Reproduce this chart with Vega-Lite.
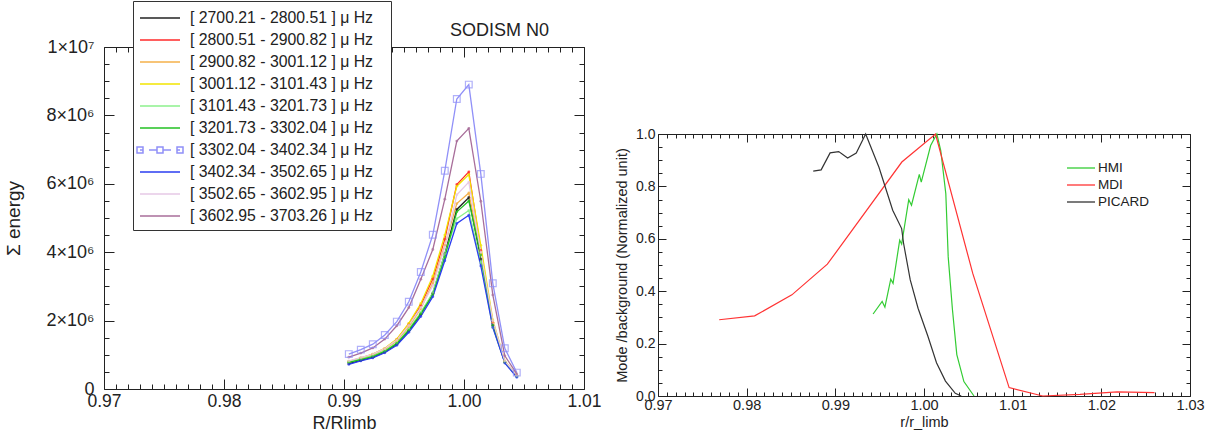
{
  "$schema": "https://vega.github.io/schema/vega-lite/v6.json",
  "padding": {"left": 4, "top": 0, "right": 2, "bottom": 0},
  "spacing": 12,
  "resolve": {"scale": {"color": "independent"}, "legend": {"color": "independent"}},
  "config": {
    "font": "Liberation Sans",
    "view": {"stroke": null},
    "axis": {"grid": false, "domainColor": "#222", "tickColor": "#222", "labelColor": "#222", "titleColor": "#222", "titleFontWeight": "normal", "labelFont": "Liberation Sans", "titleFont": "Liberation Sans", "labelFlush": false, "labelOverlap": false},
    "legend": {"labelFont": "Liberation Sans", "labelColor": "#222"}
  },
  "datasets": {
    "energy": [
      {"band":"2700.21 - 2800.51","x":0.9904,"y":740000},{"band":"2700.21 - 2800.51","x":0.9914,"y":840000},{"band":"2700.21 - 2800.51","x":0.9924,"y":930000},{"band":"2700.21 - 2800.51","x":0.9934,"y":1080000},{"band":"2700.21 - 2800.51","x":0.9944,"y":1310000},{"band":"2700.21 - 2800.51","x":0.9954,"y":1700000},{"band":"2700.21 - 2800.51","x":0.9964,"y":2180000},{"band":"2700.21 - 2800.51","x":0.9974,"y":2800000},{"band":"2700.21 - 2800.51","x":0.9984,"y":3950000},{"band":"2700.21 - 2800.51","x":0.9994,"y":5250000},{"band":"2700.21 - 2800.51","x":1.0004,"y":5600000},{"band":"2700.21 - 2800.51","x":1.0014,"y":3800000},{"band":"2700.21 - 2800.51","x":1.0024,"y":1850000},{"band":"2700.21 - 2800.51","x":1.0034,"y":780000},{"band":"2700.21 - 2800.51","x":1.0044,"y":380000},
      {"band":"2800.51 - 2900.82","x":0.9904,"y":800000},{"band":"2800.51 - 2900.82","x":0.9914,"y":900000},{"band":"2800.51 - 2900.82","x":0.9924,"y":1010000},{"band":"2800.51 - 2900.82","x":0.9934,"y":1180000},{"band":"2800.51 - 2900.82","x":0.9944,"y":1450000},{"band":"2800.51 - 2900.82","x":0.9954,"y":1900000},{"band":"2800.51 - 2900.82","x":0.9964,"y":2450000},{"band":"2800.51 - 2900.82","x":0.9974,"y":3220000},{"band":"2800.51 - 2900.82","x":0.9984,"y":4380000},{"band":"2800.51 - 2900.82","x":0.9994,"y":5980000},{"band":"2800.51 - 2900.82","x":1.0004,"y":6350000},{"band":"2800.51 - 2900.82","x":1.0014,"y":4050000},{"band":"2800.51 - 2900.82","x":1.0024,"y":1950000},{"band":"2800.51 - 2900.82","x":1.0034,"y":800000},{"band":"2800.51 - 2900.82","x":1.0044,"y":390000},
      {"band":"2900.82 - 3001.12","x":0.9904,"y":800000},{"band":"2900.82 - 3001.12","x":0.9914,"y":900000},{"band":"2900.82 - 3001.12","x":0.9924,"y":1000000},{"band":"2900.82 - 3001.12","x":0.9934,"y":1160000},{"band":"2900.82 - 3001.12","x":0.9944,"y":1400000},{"band":"2900.82 - 3001.12","x":0.9954,"y":1820000},{"band":"2900.82 - 3001.12","x":0.9964,"y":2350000},{"band":"2900.82 - 3001.12","x":0.9974,"y":3100000},{"band":"2900.82 - 3001.12","x":0.9984,"y":4200000},{"band":"2900.82 - 3001.12","x":0.9994,"y":5420000},{"band":"2900.82 - 3001.12","x":1.0004,"y":5730000},{"band":"2900.82 - 3001.12","x":1.0014,"y":3950000},{"band":"2900.82 - 3001.12","x":1.0024,"y":1950000},{"band":"2900.82 - 3001.12","x":1.0034,"y":800000},{"band":"2900.82 - 3001.12","x":1.0044,"y":390000},
      {"band":"3001.12 - 3101.43","x":0.9904,"y":810000},{"band":"3001.12 - 3101.43","x":0.9914,"y":910000},{"band":"3001.12 - 3101.43","x":0.9924,"y":1020000},{"band":"3001.12 - 3101.43","x":0.9934,"y":1190000},{"band":"3001.12 - 3101.43","x":0.9944,"y":1460000},{"band":"3001.12 - 3101.43","x":0.9954,"y":1920000},{"band":"3001.12 - 3101.43","x":0.9964,"y":2500000},{"band":"3001.12 - 3101.43","x":0.9974,"y":3300000},{"band":"3001.12 - 3101.43","x":0.9984,"y":4500000},{"band":"3001.12 - 3101.43","x":0.9994,"y":5930000},{"band":"3001.12 - 3101.43","x":1.0004,"y":6270000},{"band":"3001.12 - 3101.43","x":1.0014,"y":4200000},{"band":"3001.12 - 3101.43","x":1.0024,"y":2020000},{"band":"3001.12 - 3101.43","x":1.0034,"y":820000},{"band":"3001.12 - 3101.43","x":1.0044,"y":400000},
      {"band":"3101.43 - 3201.73","x":0.9904,"y":790000},{"band":"3101.43 - 3201.73","x":0.9914,"y":880000},{"band":"3101.43 - 3201.73","x":0.9924,"y":970000},{"band":"3101.43 - 3201.73","x":0.9934,"y":1120000},{"band":"3101.43 - 3201.73","x":0.9944,"y":1350000},{"band":"3101.43 - 3201.73","x":0.9954,"y":1750000},{"band":"3101.43 - 3201.73","x":0.9964,"y":2240000},{"band":"3101.43 - 3201.73","x":0.9974,"y":2820000},{"band":"3101.43 - 3201.73","x":0.9984,"y":3950000},{"band":"3101.43 - 3201.73","x":0.9994,"y":4980000},{"band":"3101.43 - 3201.73","x":1.0004,"y":5220000},{"band":"3101.43 - 3201.73","x":1.0014,"y":3700000},{"band":"3101.43 - 3201.73","x":1.0024,"y":1800000},{"band":"3101.43 - 3201.73","x":1.0034,"y":780000},{"band":"3101.43 - 3201.73","x":1.0044,"y":370000},
      {"band":"3201.73 - 3302.04","x":0.9904,"y":780000},{"band":"3201.73 - 3302.04","x":0.9914,"y":860000},{"band":"3201.73 - 3302.04","x":0.9924,"y":950000},{"band":"3201.73 - 3302.04","x":0.9934,"y":1100000},{"band":"3201.73 - 3302.04","x":0.9944,"y":1330000},{"band":"3201.73 - 3302.04","x":0.9954,"y":1720000},{"band":"3201.73 - 3302.04","x":0.9964,"y":2200000},{"band":"3201.73 - 3302.04","x":0.9974,"y":2750000},{"band":"3201.73 - 3302.04","x":0.9984,"y":3850000},{"band":"3201.73 - 3302.04","x":0.9994,"y":5180000},{"band":"3201.73 - 3302.04","x":1.0004,"y":5500000},{"band":"3201.73 - 3302.04","x":1.0014,"y":3920000},{"band":"3201.73 - 3302.04","x":1.0024,"y":1860000},{"band":"3201.73 - 3302.04","x":1.0034,"y":790000},{"band":"3201.73 - 3302.04","x":1.0044,"y":370000},
      {"band":"3302.04 - 3402.34","x":0.9904,"y":1020000},{"band":"3302.04 - 3402.34","x":0.9914,"y":1150000},{"band":"3302.04 - 3402.34","x":0.9924,"y":1310000},{"band":"3302.04 - 3402.34","x":0.9934,"y":1580000},{"band":"3302.04 - 3402.34","x":0.9944,"y":1970000},{"band":"3302.04 - 3402.34","x":0.9954,"y":2550000},{"band":"3302.04 - 3402.34","x":0.9964,"y":3420000},{"band":"3302.04 - 3402.34","x":0.9974,"y":4510000},{"band":"3302.04 - 3402.34","x":0.9984,"y":6380000},{"band":"3302.04 - 3402.34","x":0.9994,"y":8480000},{"band":"3302.04 - 3402.34","x":1.0004,"y":8900000},{"band":"3302.04 - 3402.34","x":1.0014,"y":6290000},{"band":"3302.04 - 3402.34","x":1.0024,"y":3090000},{"band":"3302.04 - 3402.34","x":1.0034,"y":1190000},{"band":"3302.04 - 3402.34","x":1.0044,"y":480000},
      {"band":"3402.34 - 3502.65","x":0.9904,"y":720000},{"band":"3402.34 - 3502.65","x":0.9914,"y":820000},{"band":"3402.34 - 3502.65","x":0.9924,"y":910000},{"band":"3402.34 - 3502.65","x":0.9934,"y":1060000},{"band":"3402.34 - 3502.65","x":0.9944,"y":1280000},{"band":"3402.34 - 3502.65","x":0.9954,"y":1660000},{"band":"3402.34 - 3502.65","x":0.9964,"y":2120000},{"band":"3402.34 - 3502.65","x":0.9974,"y":2700000},{"band":"3402.34 - 3502.65","x":0.9984,"y":3750000},{"band":"3402.34 - 3502.65","x":0.9994,"y":4840000},{"band":"3402.34 - 3502.65","x":1.0004,"y":5080000},{"band":"3402.34 - 3502.65","x":1.0014,"y":3600000},{"band":"3402.34 - 3502.65","x":1.0024,"y":1800000},{"band":"3402.34 - 3502.65","x":1.0034,"y":760000},{"band":"3402.34 - 3502.65","x":1.0044,"y":340000},
      {"band":"3502.65 - 3602.95","x":0.9904,"y":820000},{"band":"3502.65 - 3602.95","x":0.9914,"y":920000},{"band":"3502.65 - 3602.95","x":0.9924,"y":1020000},{"band":"3502.65 - 3602.95","x":0.9934,"y":1180000},{"band":"3502.65 - 3602.95","x":0.9944,"y":1430000},{"band":"3502.65 - 3602.95","x":0.9954,"y":1860000},{"band":"3502.65 - 3602.95","x":0.9964,"y":2380000},{"band":"3502.65 - 3602.95","x":0.9974,"y":3020000},{"band":"3502.65 - 3602.95","x":0.9984,"y":4150000},{"band":"3502.65 - 3602.95","x":0.9994,"y":5680000},{"band":"3502.65 - 3602.95","x":1.0004,"y":6050000},{"band":"3502.65 - 3602.95","x":1.0014,"y":4000000},{"band":"3502.65 - 3602.95","x":1.0024,"y":2000000},{"band":"3502.65 - 3602.95","x":1.0034,"y":820000},{"band":"3502.65 - 3602.95","x":1.0044,"y":400000},
      {"band":"3602.95 - 3703.26","x":0.9904,"y":930000},{"band":"3602.95 - 3703.26","x":0.9914,"y":1050000},{"band":"3602.95 - 3703.26","x":0.9924,"y":1200000},{"band":"3602.95 - 3703.26","x":0.9934,"y":1460000},{"band":"3602.95 - 3703.26","x":0.9944,"y":1850000},{"band":"3602.95 - 3703.26","x":0.9954,"y":2380000},{"band":"3602.95 - 3703.26","x":0.9964,"y":3210000},{"band":"3602.95 - 3703.26","x":0.9974,"y":4080000},{"band":"3602.95 - 3703.26","x":0.9984,"y":5550000},{"band":"3602.95 - 3703.26","x":0.9994,"y":7250000},{"band":"3602.95 - 3703.26","x":1.0004,"y":7620000},{"band":"3602.95 - 3703.26","x":1.0014,"y":5490000},{"band":"3602.95 - 3703.26","x":1.0024,"y":2750000},{"band":"3602.95 - 3703.26","x":1.0034,"y":970000},{"band":"3602.95 - 3703.26","x":1.0044,"y":440000}
    ],
    "modes": [
      {"inst":"HMI","x":0.99426,"y":0.313},{"inst":"HMI","x":0.99528,"y":0.361},{"inst":"HMI","x":0.99559,"y":0.339},{"inst":"HMI","x":0.99625,"y":0.446},{"inst":"HMI","x":0.99651,"y":0.43},{"inst":"HMI","x":0.99726,"y":0.595},{"inst":"HMI","x":0.99748,"y":0.58},{"inst":"HMI","x":0.99828,"y":0.749},{"inst":"HMI","x":0.99859,"y":0.728},{"inst":"HMI","x":0.99947,"y":0.846},{"inst":"HMI","x":0.99969,"y":0.816},{"inst":"HMI","x":1.00075,"y":0.956},{"inst":"HMI","x":1.00145,"y":1.0},{"inst":"HMI","x":1.00189,"y":0.937},{"inst":"HMI","x":1.00246,"y":0.772},{"inst":"HMI","x":1.00273,"y":0.531},{"inst":"HMI","x":1.00321,"y":0.329},{"inst":"HMI","x":1.0037,"y":0.158},{"inst":"HMI","x":1.0045,"y":0.055},{"inst":"HMI","x":1.00564,"y":0.0},
      {"inst":"MDI","x":0.9769,"y":0.291},{"inst":"MDI","x":0.9809,"y":0.306},{"inst":"MDI","x":0.9851,"y":0.386},{"inst":"MDI","x":0.9891,"y":0.503},{"inst":"MDI","x":0.9975,"y":0.893},{"inst":"MDI","x":1.0013,"y":1.0},{"inst":"MDI","x":1.0055,"y":0.468},{"inst":"MDI","x":1.0096,"y":0.032},{"inst":"MDI","x":1.0134,"y":0.0},{"inst":"MDI","x":1.0176,"y":0.006},{"inst":"MDI","x":1.0218,"y":0.016},{"inst":"MDI","x":1.026,"y":0.013},
      {"inst":"PICARD","x":0.98751,"y":0.858},{"inst":"PICARD","x":0.9884,"y":0.863},{"inst":"PICARD","x":0.98941,"y":0.928},{"inst":"PICARD","x":0.99038,"y":0.933},{"inst":"PICARD","x":0.99139,"y":0.908},{"inst":"PICARD","x":0.99236,"y":0.927},{"inst":"PICARD","x":0.99342,"y":1.0},{"inst":"PICARD","x":0.99492,"y":0.873},{"inst":"PICARD","x":0.99647,"y":0.709},{"inst":"PICARD","x":0.99748,"y":0.639},{"inst":"PICARD","x":0.9977,"y":0.582},{"inst":"PICARD","x":0.99845,"y":0.443},{"inst":"PICARD","x":0.99933,"y":0.335},{"inst":"PICARD","x":1.00044,"y":0.228},{"inst":"PICARD","x":1.00141,"y":0.127},{"inst":"PICARD","x":1.00242,"y":0.057},{"inst":"PICARD","x":1.00353,"y":0.01},{"inst":"PICARD","x":1.0042,"y":0.0}
    ],
    "spacer": [{"k": 1}]
  },
  "hconcat": [
    {
      "width": 480,
      "height": 342,
      "data": {"name": "energy"},
      "title": {"text": "SODISM N0", "anchor": "end", "dx": -52, "fontSize": 18, "fontWeight": "normal", "color": "#222", "offset": -39},
      "layer": [
        {
          "mark": {"type": "line", "strokeWidth": 1.3},
          "encoding": {
            "x": {"field": "x", "type": "quantitative", "scale": {"domain": [0.97, 1.01], "nice": false, "zero": false},
              "axis": {"orient": "bottom", "title": "R/Rlimb", "titleFontSize": 18, "titlePadding": 0, "labelFontSize": 17.5, "labelPadding": 13,
                "values": [0.97,0.971,0.972,0.973,0.974,0.975,0.976,0.977,0.978,0.979,0.98,0.981,0.982,0.983,0.984,0.985,0.986,0.987,0.988,0.989,0.99,0.991,0.992,0.993,0.994,0.995,0.996,0.997,0.998,0.999,1,1.001,1.002,1.003,1.004,1.005,1.006,1.007,1.008,1.009,1.01],
                "labelExpr": "abs(datum.value*100-round(datum.value*100))<0.01 ? format(datum.value,'.2f') : ''",
                "tickSize": {"condition": {"test": "abs(datum.value*100-round(datum.value*100))<0.01", "value": -10}, "value": -5}}},
            "y": {"field": "y", "type": "quantitative", "scale": {"domain": [0, 10000000], "nice": false},
              "axis": {"orient": "left", "title": "Σ energy", "titleFontSize": 19, "titlePadding": 23, "labelFontSize": 18, "labelPadding": 20,
                "values": [0,500000,1000000,1500000,2000000,2500000,3000000,3500000,4000000,4500000,5000000,5500000,6000000,6500000,7000000,7500000,8000000,8500000,9000000,9500000,10000000],
                "labelExpr": "datum.value==0 ? '0' : datum.value==10000000 ? '1×10⁷' : (round(datum.value/1000000)%2==0 && datum.value%1000000==0) ? round(datum.value/1000000)+'×10⁶' : ''",
                "tickSize": {"condition": {"test": "datum.value%2000000==0", "value": -10}, "value": -5}}},
            "color": {"field": "band", "type": "nominal",
              "scale": {"domain": ["2700.21 - 2800.51","2800.51 - 2900.82","2900.82 - 3001.12","3001.12 - 3101.43","3101.43 - 3201.73","3201.73 - 3302.04","3302.04 - 3402.34","3402.34 - 3502.65","3502.65 - 3602.95","3602.95 - 3703.26"],
                "range": ["#222222","#ff2a2a","#f5b04a","#f2e400","#8cf08c","#22c022","#9090f8","#2a3cf0","#e6c8e6","#a86e9a"]},
              "legend": {"title": null, "orient": "none", "legendX": 29, "legendY": -46, "symbolType": "M-2,0H2", "symbolSize": 400, "symbolStrokeWidth": 1.5, "symbolOffset": 10, "labelOffset": 19, "padding": 6, "rowPadding": 3, "labelFontSize": 15.8, "labelLimit": 0, "strokeColor": "#333", "fillColor": "white",
                "labelExpr": "'[ ' + datum.label + ' ] μ Hz\u2800'",
                "encode": {"symbols": {"update": {"shape": {"signal": "datum.value === '3302.04 - 3402.34' ? 'M-2,0H-1.7M-1.1,0H-0.3M0.3,0H1.1M1.7,0H2M-2.3,-0.3H-1.7V0.3H-2.3ZM-0.3,-0.3H0.3V0.3H-0.3ZM1.7,-0.3H2.3V0.3H1.7Z' : 'M-2,0H2'"}, "fill": {"value": "transparent"}, "fillOpacity": {"value": 0}}}}}}
          }
        },
        {
          "transform": [{"filter": "datum.band != '3302.04 - 3402.34'"}],
          "mark": {"type": "point", "filled": true, "size": 8},
          "encoding": {
            "x": {"field": "x", "type": "quantitative",
              "axis": {"orient": "top", "title": null, "labels": false,
                "values": [0.97,0.971,0.972,0.973,0.974,0.975,0.976,0.977,0.978,0.979,0.98,0.981,0.982,0.983,0.984,0.985,0.986,0.987,0.988,0.989,0.99,0.991,0.992,0.993,0.994,0.995,0.996,0.997,0.998,0.999,1,1.001,1.002,1.003,1.004,1.005,1.006,1.007,1.008,1.009,1.01],
                "tickSize": {"condition": {"test": "abs(datum.value*100-round(datum.value*100))<0.01", "value": -10}, "value": -5}}},
            "y": {"field": "y", "type": "quantitative",
              "axis": {"orient": "right", "title": null, "labels": false,
                "values": [0,500000,1000000,1500000,2000000,2500000,3000000,3500000,4000000,4500000,5000000,5500000,6000000,6500000,7000000,7500000,8000000,8500000,9000000,9500000,10000000],
                "tickSize": {"condition": {"test": "datum.value%2000000==0", "value": -10}, "value": -5}}},
            "color": {"field": "band", "type": "nominal", "legend": null}
          }
        },
        {
          "transform": [{"filter": "datum.band == '3302.04 - 3402.34'"}],
          "mark": {"type": "point", "shape": "square", "filled": false, "size": 45, "strokeWidth": 1.2},
          "encoding": {
            "x": {"field": "x", "type": "quantitative", "axis": null},
            "y": {"field": "y", "type": "quantitative", "axis": null},
            "color": {"field": "band", "type": "nominal", "legend": null}
          }
        }
      ],
      "resolve": {"axis": {"x": "independent", "y": "independent"}}
    },
    {
      "spacing": 0,
      "vconcat": [
        {
          "width": 532,
          "height": 80,
          "data": {"name": "spacer"},
          "mark": {"type": "point", "opacity": 0}
        },
        {
          "width": 532,
          "height": 262,
          "data": {"name": "modes"},
          "layer": [
            {
              "mark": {"type": "line", "strokeWidth": 1.2},
              "encoding": {
                "x": {"field": "x", "type": "quantitative", "scale": {"domain": [0.97, 1.03], "nice": false, "zero": false},
                  "axis": {"orient": "bottom", "title": "r/r_limb", "titleFontSize": 14.5, "titlePadding": 0, "labelFontSize": 14.5, "labelPadding": 10,
                    "values": [0.97,0.971,0.972,0.973,0.974,0.975,0.976,0.977,0.978,0.979,0.98,0.981,0.982,0.983,0.984,0.985,0.986,0.987,0.988,0.989,0.99,0.991,0.992,0.993,0.994,0.995,0.996,0.997,0.998,0.999,1,1.001,1.002,1.003,1.004,1.005,1.006,1.007,1.008,1.009,1.01,1.011,1.012,1.013,1.014,1.015,1.016,1.017,1.018,1.019,1.02,1.021,1.022,1.023,1.024,1.025,1.026,1.027,1.028,1.029,1.03],
                    "labelExpr": "abs(datum.value*100-round(datum.value*100))<0.01 ? format(datum.value,'.2f') : ''",
                    "tickSize": {"condition": {"test": "abs(datum.value*100-round(datum.value*100))<0.01", "value": -8}, "value": -4}}},
                "y": {"field": "y", "type": "quantitative", "scale": {"domain": [0, 1], "nice": false},
                  "axis": {"orient": "left", "title": "Mode /background (Normalized unit)", "titleFontSize": 14.5, "titlePadding": 6, "labelFontSize": 14, "labelPadding": 11,
                    "values": [0,0.05,0.1,0.15,0.2,0.25,0.3,0.35,0.4,0.45,0.5,0.55,0.6,0.65,0.7,0.75,0.8,0.85,0.9,0.95,1],
                    "labelExpr": "abs(datum.value*5-round(datum.value*5))<0.01 ? format(datum.value,'.1f') : ''",
                    "tickSize": {"condition": {"test": "abs(datum.value*5-round(datum.value*5))<0.01", "value": -8}, "value": -4}}},
                "color": {"field": "inst", "type": "nominal",
                  "scale": {"domain": ["HMI","MDI","PICARD"], "range": ["#33cc33","#ff3333","#333333"]},
                  "legend": {"title": null, "orient": "none", "legendX": 408, "legendY": 113, "symbolType": "M-2,0H2", "symbolSize": 196, "symbolStrokeWidth": 1.3, "symbolOffset": 7, "labelOffset": 9, "padding": 0, "rowPadding": 2, "labelFontSize": 13.5,
                    "encode": {"symbols": {"update": {"fill": {"value": "transparent"}}}}}}
              }
            },
            {
              "mark": {"type": "point", "opacity": 0},
              "encoding": {
                "x": {"field": "x", "type": "quantitative",
                  "axis": {"orient": "top", "title": null, "labels": false,
                    "values": [0.97,0.971,0.972,0.973,0.974,0.975,0.976,0.977,0.978,0.979,0.98,0.981,0.982,0.983,0.984,0.985,0.986,0.987,0.988,0.989,0.99,0.991,0.992,0.993,0.994,0.995,0.996,0.997,0.998,0.999,1,1.001,1.002,1.003,1.004,1.005,1.006,1.007,1.008,1.009,1.01,1.011,1.012,1.013,1.014,1.015,1.016,1.017,1.018,1.019,1.02,1.021,1.022,1.023,1.024,1.025,1.026,1.027,1.028,1.029,1.03],
                    "tickSize": {"condition": {"test": "abs(datum.value*100-round(datum.value*100))<0.01", "value": -8}, "value": -4}}},
                "y": {"field": "y", "type": "quantitative",
                  "axis": {"orient": "right", "title": null, "labels": false,
                    "values": [0,0.05,0.1,0.15,0.2,0.25,0.3,0.35,0.4,0.45,0.5,0.55,0.6,0.65,0.7,0.75,0.8,0.85,0.9,0.95,1],
                    "tickSize": {"condition": {"test": "abs(datum.value*5-round(datum.value*5))<0.01", "value": -8}, "value": -4}}}
              }
            }
          ],
          "resolve": {"axis": {"x": "independent", "y": "independent"}}
        }
      ]
    }
  ]
}
